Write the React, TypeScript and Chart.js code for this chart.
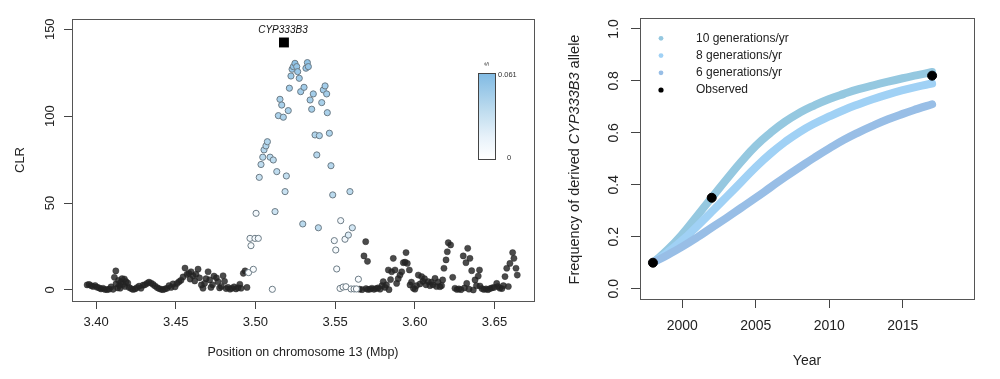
import React, { useEffect, useRef } from "react";
import { Chart, registerables } from "chart.js";

Chart.register(...registerables);

const FONT = '"Liberation Sans", Arial, Helvetica, sans-serif';

// ---------------- Left panel data ----------------
const bgPos = [
  3.3944, 3.3956, 3.3969, 3.3981, 3.3994, 3.4006, 3.4019, 3.4031, 3.4044, 3.4056,
  3.4069, 3.4082, 3.4094, 3.4107, 3.4115, 3.4124, 3.4125, 3.4135, 3.4141, 3.4147,
  3.4151, 3.4157, 3.4163, 3.4169, 3.4178, 3.4182, 3.4188, 3.4199, 3.4207, 3.422,
  3.4232, 3.4245, 3.4257, 3.427, 3.4282, 3.4295, 3.4307, 3.432, 3.4332, 3.4345,
  3.4358, 3.437, 3.4383, 3.4395, 3.4408, 3.442, 3.4433, 3.4445, 3.4458, 3.4471,
  3.4483, 3.4496, 3.4508, 3.4521, 3.4533, 3.4546, 3.4558, 3.4571, 3.4582, 3.459,
  3.4596, 3.4609, 3.4619, 3.4627, 3.464, 3.4649, 3.4661, 3.4671, 3.4681, 3.469,
  3.4703, 3.4713, 3.4721, 3.4731, 3.474, 3.4755, 3.4765, 3.4775, 3.4786, 3.4797,
  3.4806, 3.4816, 3.4828, 3.4841, 3.4853, 3.4866, 3.4878, 3.4891, 3.4902, 3.491,
  3.4924, 3.4935, 3.4947,
  3.5653, 3.5669, 3.5681, 3.5692, 3.5694, 3.5703, 3.5706, 3.5719, 3.5731, 3.5744,
  3.5757, 3.5769, 3.5782, 3.5794, 3.5802, 3.5813, 3.5822, 3.5834, 3.5838, 3.5848,
  3.5855, 3.5865, 3.5876, 3.5886, 3.5896, 3.5907, 3.5918, 3.5928, 3.5939, 3.5945,
  3.5953, 3.5966, 3.597, 3.5979, 3.5991, 3.6001, 3.6011, 3.6022, 3.6033, 3.6043,
  3.6051, 3.6061, 3.607, 3.6085, 3.6095, 3.6105, 3.6114, 3.6127, 3.6136, 3.6146,
  3.6158, 3.6168, 3.6175, 3.6183, 3.6196, 3.6204, 3.621, 3.6225, 3.6238, 3.6252,
  3.6265, 3.6277, 3.629, 3.6304, 3.6312, 3.6321, 3.6326, 3.6332, 3.634, 3.6346,
  3.6357, 3.6367, 3.6378, 3.6387, 3.6398, 3.6406, 3.6409, 3.6421, 3.6434, 3.6447,
  3.6459, 3.6472, 3.6484, 3.6497, 3.6514, 3.6522, 3.6534, 3.6547, 3.6556, 3.6566,
  3.6577, 3.6587, 3.6597, 3.6614, 3.6622, 3.6635, 3.6643,
];
const bgClr = [
  2.9, 3.2, 2.5, 2.0, 2.6, 1.6, 1.2, 0.6, 1.0, 0.3,
  0.2, 0.5, 1.8, 0.4, 7.3, 11.0, 3.5, 1.2, 5.5, 2.6,
  1.0, 4.5, 6.5, 3.2, 6.3, 2.0, 4.8, 4.0, 1.5, 0.8,
  0.3, 0.6, 1.4, 2.2, 1.0, 2.8, 3.0, 3.8, 4.5, 4.0,
  3.2, 2.3, 1.4, 0.8, 0.4, 0.2, 0.6, 1.0, 2.5, 1.5,
  3.5, 1.8, 3.8, 4.8, 5.6, 7.5, 12.6, 9.0, 9.6, 6.3,
  10.5, 8.2, 5.2, 9.0, 12.0, 7.0, 2.9, 1.0, 3.8, 6.5,
  10.5, 5.8, 1.5, 3.0, 8.0, 7.0, 4.8, 1.2, 2.0, 8.2,
  5.0, 0.8, 1.5, 0.5, 1.0, 1.8, 0.6, 1.3, 3.3, 1.0,
  9.6, 11.0, 1.5,
  0.5, 0.2, 19.6, 27.8, 0.8, 16.5, 0.3, 0.5, 1.0, 0.4,
  0.8, 1.2, 0.5, 2.5, 4.8, 1.5, 3.0, 11.5, 0.2, 6.0,
  10.5, 18.2, 11.5, 3.8, 6.5, 8.6, 10.5, 15.7, 16.0, 21.5,
  15.3, 11.5, 2.9, 4.5, 1.0, 0.5, 2.5, 8.6, 3.5, 7.7,
  5.0, 6.5, 3.0, 4.8, 2.5, 4.5, 3.0, 6.7, 2.0, 4.5,
  1.9, 2.5, 5.8, 12.5, 17.3, 22.0, 27.2, 25.9, 7.3, 1.0,
  0.3, 0.6, 0.2, 19.6, 1.2, 15.7, 3.8, 24.0, 0.5, 18.2,
  11.1, 0.0, 5.8, 2.5, 8.0, 11.5, 2.3, 0.8, 0.3, 0.6,
  0.2, 0.8, 1.2, 1.5, 3.8, 2.0, 1.0, 0.8, 2.5, 7.7,
  12.5, 2.0, 15.3, 21.5, 18.2, 12.5, 8.6,
];

const peakPos = [
  3.4957, 3.4966, 3.4972, 3.4987, 3.4997, 3.5004, 3.5018, 3.5024, 3.5035, 3.5046,
  3.5054, 3.5066, 3.5075, 3.5092, 3.5106, 3.5112, 3.5123, 3.5134, 3.5144, 3.5154,
  3.5165, 3.5175, 3.5186, 3.5194, 3.5206, 3.5213, 3.5223, 3.523, 3.5238, 3.5248,
  3.5259, 3.5265, 3.5275, 3.5284, 3.5297, 3.5305, 3.5317, 3.5326, 3.5332, 3.5343,
  3.5353, 3.5363, 3.5374, 3.5385, 3.5395, 3.5401, 3.5416, 3.5426, 3.5437, 3.5447,
  3.5451, 3.5464, 3.5474, 3.5485, 3.5495, 3.5504, 3.551, 3.5531, 3.5535, 3.555,
  3.5562, 3.5568, 3.5583, 3.5593, 3.56, 3.5608, 3.5619, 3.5634, 3.5646,
];
const peakClr = [
  10.0, 29.7, 25.5, 11.9, 29.7, 44.1, 29.7, 64.8, 72.2, 76.4,
  80.6, 82.9, 85.3, 76.4, 0.4, 74.8, 45.1, 68.1, 100.3, 109.7,
  106.4, 99.4, 56.6, 65.6, 103.2, 116.1, 123.1, 127.0, 128.5, 130.4,
  128.5, 125.6, 121.8, 114.1, 38.0, 116.6, 127.6, 130.8, 128.5, 109.3,
  104.0, 112.8, 89.2, 77.7, 35.8, 88.8, 107.8, 115.1, 117.4, 112.8,
  102.0, 90.2, 71.5, 54.7, 28.4, 23.0, 12.1, 0.9, 39.9, 1.7,
  29.2, 1.9, 31.6, 56.6, 0.6, 35.8, 0.6, 0.6, 6.2,
];
const peakS = [
  0.004, 0.006, 0.005, 0.004, 0.006, 0.008, 0.007, 0.03, 0.034, 0.036,
  0.038, 0.04, 0.04, 0.036, 0.003, 0.035, 0.028, 0.034, 0.042, 0.044,
  0.043, 0.042, 0.03, 0.032, 0.043, 0.046, 0.048, 0.05, 0.052, 0.055,
  0.052, 0.05, 0.048, 0.046, 0.036, 0.046, 0.05, 0.054, 0.052, 0.045,
  0.044, 0.046, 0.04, 0.038, 0.035, 0.04, 0.044, 0.046, 0.046, 0.045,
  0.043, 0.041, 0.038, 0.036, 0.006, 0.005, 0.004, 0.002, 0.008, 0.002,
  0.008, 0.002, 0.02, 0.035, 0.002, 0.025, 0.002, 0.002, 0.003,
];

const genePos = [3.5179];
const geneClr = [142.4];
const geneLabel = "CYP333B3";
const sMax = 0.061;
const sTickLabels = ["0.061", "0"];
const sLabel = "ŝ";

const xTicksLeft = [3.4, 3.45, 3.5, 3.55, 3.6, 3.65];
const yTicksLeft = [0, 50, 100, 150];
const xTitleLeft = "Position on chromosome 13 (Mbp)";
const yTitleLeft = "CLR";

// ---------------- Right panel data ----------------
const years = [
  1998, 1999, 2000, 2001, 2002, 2003, 2004, 2005, 2006, 2007,
  2008, 2009, 2010, 2011, 2012, 2013, 2014, 2015, 2016, 2017,
];
const freq10 = [
  0.1, 0.15, 0.21, 0.28, 0.35, 0.42, 0.488, 0.55, 0.6, 0.643,
  0.678, 0.706, 0.73, 0.75, 0.768, 0.783, 0.797, 0.81, 0.822, 0.834,
];
const freq8 = [
  0.1, 0.14, 0.186, 0.24, 0.296, 0.353, 0.41, 0.468, 0.52, 0.565,
  0.604, 0.636, 0.663, 0.688, 0.71, 0.73, 0.748, 0.764, 0.778, 0.79,
];
const freq6 = [
  0.1, 0.13, 0.162, 0.197, 0.235, 0.272, 0.311, 0.35, 0.39, 0.43,
  0.468, 0.505, 0.54, 0.573, 0.602, 0.628, 0.652, 0.673, 0.692, 0.71,
];
const obsYears = [1998, 2002, 2017];
const obsFreq = [0.1, 0.35, 0.82];
const seriesLabels = ["10 generations/yr", "8 generations/yr", "6 generations/yr", "Observed"];
const seriesColors = ["#95c8e0", "#a0d1f5", "#98bee6", "#000000"];
const xTicksRight = [2000, 2005, 2010, 2015];
const yTicksRight = [0, 0.2, 0.4, 0.6, 0.8, 1.0];
const xTitleRight = "Year";
const yTitleRightParts = ["Frequency of derived ", "CYP333B3", " allele"];

// colour scale for the peak points
const COLOR_STOPS: [number, number[]][] = [
  [0, [255, 255, 255]],
  [0.25, [232, 242, 250]],
  [0.55, [192, 221, 239]],
  [1, [128, 186, 227]],
];
function sColor(s: number): string {
  const t = Math.max(0, Math.min(1, s / sMax));
  for (let i = 1; i < COLOR_STOPS.length; i++) {
    if (t <= COLOR_STOPS[i][0]) {
      const [t0, c0] = COLOR_STOPS[i - 1];
      const [t1, c1] = COLOR_STOPS[i];
      const f = (t - t0) / (t1 - t0);
      return `rgb(${c0.map((v, k) => Math.round(v + (c1[k] - v) * f)).join(",")})`;
    }
  }
  const c = COLOR_STOPS[COLOR_STOPS.length - 1][1];
  return `rgb(${c.join(",")})`;
}

const AXIS_COLOR = "#444";
const TEXT_COLOR = "#222";

function boxPlugin(id: string) {
  return {
    id,
    afterDraw(chart: any) {
      const { ctx, chartArea: a } = chart;
      ctx.save();
      ctx.strokeStyle = "#555";
      ctx.lineWidth = 1;
      ctx.strokeRect(Math.round(a.left) + 0.5, Math.round(a.top) + 0.5, Math.round(a.right - a.left), Math.round(a.bottom - a.top));
      ctx.restore();
    },
  };
}

const leftDecor = {
  id: "leftDecor",
  afterDraw(chart: any) {
    const { ctx, chartArea: a, scales } = chart;
    ctx.save();
    ctx.fillStyle = TEXT_COLOR;
    ctx.textAlign = "center";
    ctx.textBaseline = "middle";
    ctx.font = `12.5px ${FONT}`;
    ctx.fillText(xTitleLeft, (a.left + a.right) / 2, 353);
    ctx.save();
    ctx.translate(20, (a.top + a.bottom) / 2);
    ctx.rotate(-Math.PI / 2);
    ctx.font = `13px ${FONT}`;
    ctx.fillText(yTitleLeft, 0, 0);
    ctx.restore();
    // gene label
    const gx = scales.x.getPixelForValue(genePos[0]);
    const gy = scales.y.getPixelForValue(geneClr[0]);
    ctx.font = `italic 10px ${FONT}`;
    ctx.fillStyle = "#111";
    ctx.fillText(geneLabel, gx - 1, gy - 12.5);
    // colour bar
    const bx = a.right - 56;
    const bw = 17;
    const by = a.top + 54;
    const bh = 86;
    const grad = ctx.createLinearGradient(0, by + bh, 0, by);
    COLOR_STOPS.forEach(([t, c]) => grad.addColorStop(t, `rgb(${c.join(",")})`));
    ctx.fillStyle = grad;
    ctx.fillRect(bx, by, bw, bh);
    ctx.strokeStyle = "#444";
    ctx.lineWidth = 1;
    ctx.strokeRect(Math.round(bx) + 0.5, Math.round(by) + 0.5, bw, bh);
    ctx.fillStyle = "#333";
    ctx.font = `7.5px ${FONT}`;
    ctx.textAlign = "left";
    ctx.fillText(sTickLabels[0], bx + bw + 3, by + 2);
    ctx.fillText(sTickLabels[1], bx + bw + 12, by + bh - 1);
    ctx.save();
    ctx.translate(bx + bw / 2, by - 9);
    ctx.rotate(-Math.PI / 2);
    ctx.textAlign = "center";
    ctx.fillStyle = "#555";
    ctx.font = `8px ${FONT}`;
    ctx.fillText(sLabel, 0, 0);
    ctx.restore();
    ctx.restore();
  },
};

const rightDecor = {
  id: "rightDecor",
  afterDraw(chart: any) {
    const { ctx, chartArea: a } = chart;
    ctx.save();
    ctx.fillStyle = TEXT_COLOR;
    ctx.textAlign = "center";
    ctx.textBaseline = "middle";
    ctx.font = `14px ${FONT}`;
    ctx.fillText(xTitleRight, (a.left + a.right) / 2, 361.5);
    ctx.save();
    ctx.translate(15, (a.top + a.bottom) / 2 + 1);
    ctx.rotate(-Math.PI / 2);
    const fonts = [`14.5px ${FONT}`, `italic 14.5px ${FONT}`, `14.5px ${FONT}`];
    let total = 0;
    const widths = yTitleRightParts.map((p, i) => {
      ctx.font = fonts[i];
      const w = ctx.measureText(p).width;
      total += w;
      return w;
    });
    let cx = -total / 2;
    ctx.textAlign = "left";
    yTitleRightParts.forEach((p, i) => {
      ctx.font = fonts[i];
      ctx.fillText(p, cx, 0);
      cx += widths[i];
    });
    ctx.restore();
    // legend
    const lx = 101;
    const ty = [38.3, 55.6, 72.8, 90];
    ctx.font = `12px ${FONT}`;
    ctx.textAlign = "left";
    seriesLabels.forEach((lab, i) => {
      ctx.beginPath();
      ctx.fillStyle = seriesColors[i];
      ctx.arc(lx, ty[i], i === 3 ? 2.6 : 2.4, 0, Math.PI * 2);
      ctx.fill();
      ctx.fillStyle = TEXT_COLOR;
      ctx.fillText(lab, lx + 35, ty[i]);
    });
    ctx.restore();
  },
};

function leftConfig(): any {
  return {
    type: "scatter",
    data: {
      datasets: [
        {
          label: "background",
          data: bgPos.map((x, i) => ({ x, y: bgClr[i] })),
          backgroundColor: "rgba(35,35,35,0.82)",
          borderColor: "rgba(35,35,35,0.82)",
          borderWidth: 0.5,
          pointRadius: 3.1,
          order: 2,
        },
        {
          label: "peak",
          data: peakPos.map((x, i) => ({ x, y: peakClr[i] })),
          pointBackgroundColor: peakS.map(sColor),
          pointBorderColor: "#6d7c86",
          pointBorderWidth: 1,
          pointRadius: 3.1,
          order: 1,
        },
        {
          label: "gene",
          data: genePos.map((x, i) => ({ x, y: geneClr[i] })),
          pointStyle: "rect",
          pointRadius: 7,
          backgroundColor: "#000",
          borderColor: "#000",
          borderWidth: 0,
          order: 0,
        },
      ],
    },
    options: {
      responsive: false,
      devicePixelRatio: 1,
      animation: false,
      events: [],
      layout: { padding: { top: 19, right: 26, left: 0, bottom: 0 } },
      plugins: { legend: { display: false }, tooltip: { enabled: false } },
      scales: {
        x: {
          type: "linear",
          min: 3.3849,
          max: 3.6748,
          afterBuildTicks: (s: any) => {
            s.ticks = xTicksLeft.map((v) => ({ value: v }));
          },
          afterFit: (s: any) => {
            s.height = 78;
          },
          ticks: {
            callback: (v: any) => Number(v).toFixed(2),
            font: { family: FONT, size: 13 },
            color: TEXT_COLOR,
            padding: 6,
            maxRotation: 0,
            autoSkip: false,
          },
          grid: { drawOnChartArea: false, tickLength: 8, color: AXIS_COLOR },
          border: { display: false },
        },
        y: {
          type: "linear",
          min: -6.33,
          max: 155.9,
          afterBuildTicks: (s: any) => {
            s.ticks = yTicksLeft.map((v) => ({ value: v }));
          },
          afterFit: (s: any) => {
            s.width = 72;
          },
          ticks: {
            callback: (v: any) => String(v),
            font: { family: FONT, size: 13 },
            color: TEXT_COLOR,
            padding: 3,
            minRotation: 90,
            maxRotation: 90,
            crossAlign: "center",
            autoSkip: false,
          },
          grid: { drawOnChartArea: false, tickLength: 8, color: AXIS_COLOR },
          border: { display: false },
        },
      },
    },
    plugins: [boxPlugin("leftBox"), leftDecor],
  };
}

function rightConfig(): any {
  const curve = (vals: number[], color: string, order: number, label: string) => ({
    label,
    data: years.map((x, i) => ({ x, y: vals[i] })),
    showLine: true,
    borderColor: color,
    backgroundColor: color,
    borderWidth: 8,
    borderCapStyle: "round",
    borderJoinStyle: "round",
    tension: 0.5,
    pointRadius: 0,
    fill: false,
    order,
  });
  return {
    type: "scatter",
    data: {
      datasets: [
        curve(freq10, seriesColors[0], 3, seriesLabels[0]),
        curve(freq8, seriesColors[1], 2, seriesLabels[1]),
        curve(freq6, seriesColors[2], 1, seriesLabels[2]),
        {
          label: seriesLabels[3],
          data: obsYears.map((x, i) => ({ x, y: obsFreq[i] })),
          backgroundColor: "#000",
          borderColor: "#000",
          pointRadius: 4.5,
          order: 0,
        },
      ],
    },
    options: {
      responsive: false,
      devicePixelRatio: 1,
      animation: false,
      events: [],
      layout: { padding: { top: 18, right: 26, left: 0, bottom: 0 } },
      plugins: { legend: { display: false }, tooltip: { enabled: false } },
      scales: {
        x: {
          type: "linear",
          min: 1997.12,
          max: 2019.85,
          afterBuildTicks: (s: any) => {
            s.ticks = xTicksRight.map((v) => ({ value: v }));
          },
          afterFit: (s: any) => {
            s.height = 80;
          },
          ticks: {
            callback: (v: any) => String(v),
            font: { family: FONT, size: 14 },
            color: TEXT_COLOR,
            padding: 10,
            maxRotation: 0,
            autoSkip: false,
          },
          grid: { drawOnChartArea: false, tickLength: 9, color: AXIS_COLOR },
          border: { display: false },
        },
        y: {
          type: "linear",
          min: -0.0397,
          max: 1.042,
          afterBuildTicks: (s: any) => {
            s.ticks = yTicksRight.map((v) => ({ value: v }));
          },
          afterFit: (s: any) => {
            s.width = 80;
          },
          ticks: {
            callback: (v: any) => Number(v).toFixed(1),
            font: { family: FONT, size: 14 },
            color: TEXT_COLOR,
            padding: 7,
            minRotation: 90,
            maxRotation: 90,
            crossAlign: "center",
            autoSkip: false,
          },
          grid: { drawOnChartArea: false, tickLength: 9, color: AXIS_COLOR },
          border: { display: false },
        },
      },
    },
    plugins: [boxPlugin("rightBox"), rightDecor],
  };
}

export default function App() {
  const leftRef = useRef<HTMLCanvasElement>(null);
  const rightRef = useRef<HTMLCanvasElement>(null);
  useEffect(() => {
    const left = new Chart(leftRef.current as HTMLCanvasElement, leftConfig());
    const right = new Chart(rightRef.current as HTMLCanvasElement, rightConfig());
    return () => {
      left.destroy();
      right.destroy();
    };
  }, []);
  return (
    <div style={{ position: "absolute", left: 0, top: 0, width: 1000, height: 379, background: "#fff" }}>
      <canvas ref={leftRef} width={560} height={379} style={{ position: "absolute", left: 0, top: 0 }} />
      <canvas ref={rightRef} width={440} height={379} style={{ position: "absolute", left: 560, top: 0 }} />
    </div>
  );
}
